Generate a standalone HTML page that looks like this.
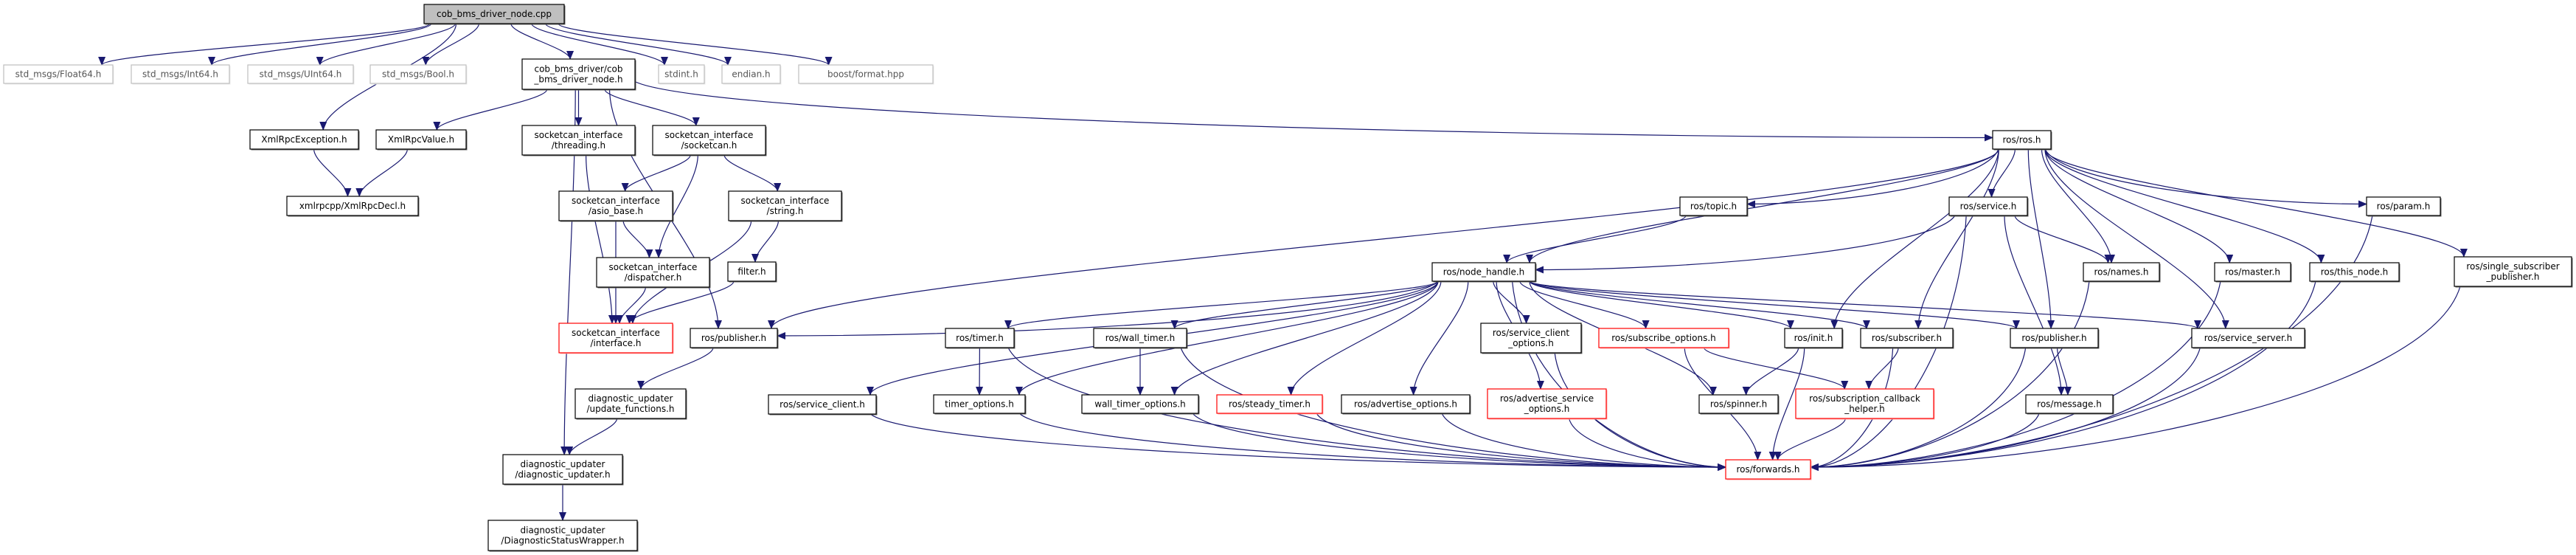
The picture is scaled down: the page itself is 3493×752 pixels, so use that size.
<!DOCTYPE html>
<html><head><meta charset="utf-8"><style>
html,body{margin:0;padding:0;background:#fff;width:3493px;height:752px;overflow:hidden}
svg text{font-family:"DejaVu Sans","Liberation Sans",sans-serif;font-size:12px}
</style></head><body>
<svg id="g" xmlns="http://www.w3.org/2000/svg" width="3493" height="752" viewBox="0 0 3493 752">
<defs><marker id="a" markerUnits="userSpaceOnUse" markerWidth="12" markerHeight="10" refX="11" refY="5" orient="auto"><path d="M0,0 L12,5 L0,10 z" fill="#191970"/></marker></defs>
</svg>
<script>
var N={
root:[575,6,765,32,["cob_bms_driver_node.cpp"],"root"],
f64:[5,88,153,113,["std_msgs/Float64.h"],"gray"],
i64:[178,88,311,113,["std_msgs/Int64.h"],"gray"],
u64:[336,88,479,113,["std_msgs/UInt64.h"],"gray"],
bool:[502,88,632,113,["std_msgs/Bool.h"],"gray"],
cnh:[708,80,861,121,["cob_bms_driver/cob","_bms_driver_node.h"],""],
stdint:[893,88,955,113,["stdint.h"],"gray"],
endian:[979,88,1058,113,["endian.h"],"gray"],
boost:[1083,88,1265,113,["boost/format.hpp"],"gray"],
xre:[339,176,486,202,["XmlRpcException.h"],""],
xrv:[510,176,632,202,["XmlRpcValue.h"],""],
thr:[708,170,861,210,["socketcan_interface","/threading.h"],""],
sck:[885,170,1038,210,["socketcan_interface","/socketcan.h"],""],
xrd:[389,266,567,292,["xmlrpcpp/XmlRpcDecl.h"],""],
asio:[758,259,912,299,["socketcan_interface","/asio_base.h"],""],
str:[988,259,1141,299,["socketcan_interface","/string.h"],""],
disp:[809,349,962,389,["socketcan_interface","/dispatcher.h"],""],
filt:[987,355,1052,381,["filter.h"],""],
intf:[758,438,912,478,["socketcan_interface","/interface.h"],"red"],
pubL:[936,445,1054,471,["ros/publisher.h"],""],
upd:[780,527,930,567,["diagnostic_updater","/update_functions.h"],""],
dup:[682,616,844,656,["diagnostic_updater","/diagnostic_updater.h"],""],
dsw:[662,705,864,746,["diagnostic_updater","/DiagnosticStatusWrapper.h"],""],
ros:[2702,177,2781,202,["ros/ros.h"],""],
topic:[2278,267,2369,292,["ros/topic.h"],""],
svc:[2643,267,2749,292,["ros/service.h"],""],
param:[3209,267,3309,292,["ros/param.h"],""],
nh:[1942,356,2082,381,["ros/node_handle.h"],""],
names:[2825,356,2928,381,["ros/names.h"],""],
master:[3003,356,3106,381,["ros/master.h"],""],
thisn:[3132,356,3253,381,["ros/this_node.h"],""],
single:[3328,348,3487,388,["ros/single_subscriber","_publisher.h"],""],
timer:[1282,445,1375,471,["ros/timer.h"],""],
wtimer:[1483,445,1609,471,["ros/wall_timer.h"],""],
sco:[2008,438,2144,478,["ros/service_client","_options.h"],""],
subo:[2168,445,2344,471,["ros/subscribe_options.h"],"red"],
init:[2420,445,2498,471,["ros/init.h"],""],
sub:[2523,445,2648,471,["ros/subscriber.h"],""],
pubR:[2726,445,2845,471,["ros/publisher.h"],""],
ssrv:[2972,445,3125,471,["ros/service_server.h"],""],
scl:[1042,535,1188,561,["ros/service_client.h"],""],
tmo:[1266,535,1390,560,["timer_options.h"],""],
wtmo:[1467,535,1625,560,["wall_timer_options.h"],""],
stm:[1650,535,1793,560,["ros/steady_timer.h"],"red"],
ado:[1819,535,1993,560,["ros/advertise_options.h"],""],
aso:[2017,527,2178,567,["ros/advertise_service","_options.h"],"red"],
spin:[2304,535,2411,560,["ros/spinner.h"],""],
scb:[2435,527,2622,567,["ros/subscription_callback","_helper.h"],"red"],
msg:[2747,535,2865,560,["ros/message.h"],""],
fwd:[2340,623,2455,649,["ros/forwards.h"],"red"]
};
var E=[["root","f64"],["root","i64"],["root","u64"],["root","bool"],["root","cnh"],["root","stdint"],["root","endian"],["root","boost"],["root","xre"],
["cnh","xrv"],["cnh","thr"],["cnh","sck"],["cnh","pubL"],["cnh","ros","s"],["cnh","dup"],
["xre","xrd"],["xrv","xrd"],["sck","asio"],["sck","disp"],["sck","str"],["asio","disp"],["asio","intf"],["disp","intf"],["str","filt"],["str","intf"],["filt","intf"],["thr","intf"],
["pubL","upd"],["upd","dup"],["dup","dsw"],
["ros","pubL"],["ros","nh"],["ros","topic","s"],["ros","svc"],["ros","names"],["ros","init"],["ros","sub"],["ros","pubR"],["ros","ssrv"],["ros","master"],["ros","thisn"],["ros","param","s"],["ros","single"],
["topic","nh"],["svc","nh","s"],["svc","names"],["svc","msg"],["svc","fwd"],
["nh","pubL","s"],["nh","scl"],["nh","timer"],["nh","tmo"],["nh","wtimer"],["nh","wtmo"],["nh","stm"],["nh","ado"],["nh","aso"],["nh","sco"],["nh","subo"],["nh","spin"],["nh","init"],["nh","sub"],["nh","pubR"],["nh","ssrv"],["nh","fwd"],
["timer","tmo"],["timer","fwd"],["wtimer","wtmo"],["wtimer","fwd"],["tmo","fwd"],["wtmo","fwd"],["stm","fwd"],["ado","fwd"],["aso","fwd"],["scl","fwd"],["sco","fwd"],["subo","fwd"],["subo","scb"],
["init","spin"],["init","fwd"],["sub","scb"],["sub","fwd"],["pubR","msg"],["pubR","fwd"],["ssrv","fwd"],["names","fwd"],["master","fwd"],["thisn","fwd"],["param","fwd"],["single","fwd"],["scb","fwd"],["msg","fwd"]];
var s="";
E.forEach(function(e){var a=N[e[0]],b=N[e[1]];var acx=(a[0]+a[2])/2,bcx=(b[0]+b[2])/2;var d;
 var side=e[2]=="s"||(e[1]=="fwd"&&(acx<2250||acx>2560)&&e[0]!="scb"&&e[0]!="spin");
 if(side){var r=bcx>acx;var sx,sy;
  if(e[0]=="cnh"){sx=a[2];sy=(a[1]+a[3])/2+10;}else{sx=acx+(bcx-acx)*0.1;sx=Math.max(a[0]+8,Math.min(a[2]-8,sx));sy=a[3];}
  var ex=r?b[0]:b[2],ey=(b[1]+b[3])/2-3;var dy=ey-sy,dx=ex-sx;
  d="M"+sx+","+sy+" C"+(sx+dx*0.05)+","+(sy+dy*0.6)+" "+(ex-dx*0.4)+","+ey+" "+ex+","+ey;}
 else{var sx=acx+(bcx-acx)*0.2;sx=Math.max(a[0]+8,Math.min(a[2]-8,sx));var sy=a[3];
  var ex=bcx+(acx-bcx)*0.1;ex=Math.max(b[0]+8,Math.min(b[2]-8,ex));var ey=b[1];var dy=ey-sy;
  d="M"+sx+","+sy+" C"+sx+","+(sy+dy*0.3)+" "+ex+","+(ey-dy*0.3)+" "+ex+","+ey;}
 s+='<path d="'+d+'" fill="none" stroke="#191970" stroke-width="1.2" marker-end="url(#a)"/>';});
for(var k in N){var n=N[k];var st=n[5];var fill=st=="root"?"#bfbfbf":"#fff";var str=st=="gray"?"#bfbfbf":st=="red"?"#ff0000":"#000";
 var tc=st=="gray"?"#555":"#000";
 s+='<rect x="'+(n[0]+1.5)+'" y="'+(n[1]+1.5)+'" width="'+(n[2]-n[0])+'" height="'+(n[3]-n[1])+'" fill="'+(st=="gray"?"#e8e8e8":st=="red"?"#ffb0b0":"#666")+'"/>';
 s+='<rect x="'+n[0]+'" y="'+n[1]+'" width="'+(n[2]-n[0])+'" height="'+(n[3]-n[1])+'" fill="'+fill+'" stroke="'+str+'" stroke-width="1.2"/>';
 var cx=(n[0]+n[2])/2,cy=(n[1]+n[3])/2;var L=n[4];
 L.forEach(function(t,i){var y=cy+4+(i-(L.length-1)/2)*14;s+='<text x="'+cx+'" y="'+y+'" text-anchor="middle" fill="'+tc+'">'+t+'</text>';});}
document.getElementById("g").insertAdjacentHTML("beforeend",s);
</script>
</body></html>
